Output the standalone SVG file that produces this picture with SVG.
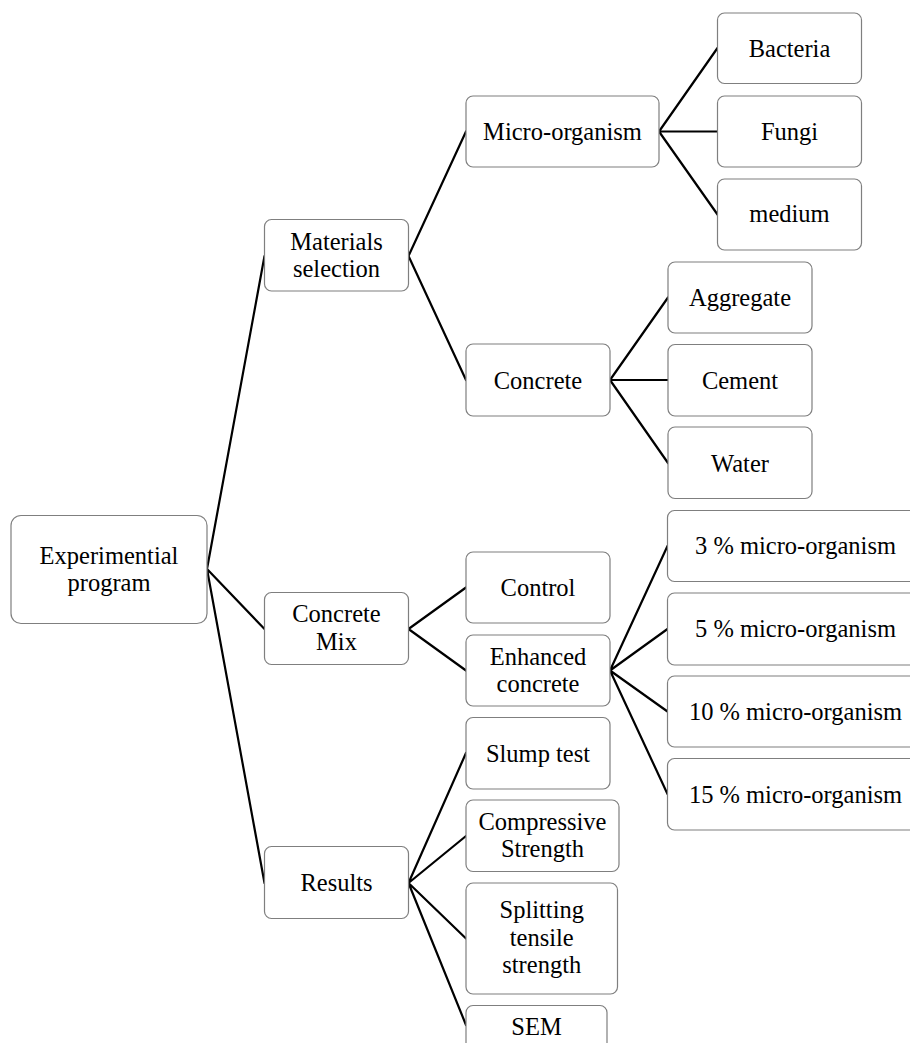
<svg xmlns="http://www.w3.org/2000/svg" width="910" height="1043" viewBox="0 0 910 1043">
<style>
.box{fill:#fff;stroke:#7f7f7f;stroke-width:1.2}
.t{font-size:24.5px;fill:#000;text-anchor:middle}
.c{stroke:#000;stroke-width:2.2;fill:none;stroke-linecap:round}
</style>
<rect width="910" height="1043" fill="#fff"/>
<g id="connectors">
<path class="c" d="M207,569L264.5,256M207,569L264.5,629M207,569L264.5,883"/>
<path class="c" d="M408.5,256L466,131.5M408.5,256L466,380"/>
<path class="c" d="M659,131.5L717.5,48M659,131.5L717.5,131.5M659,131.5L717.5,214.5"/>
<path class="c" d="M610,380L668,297.5M610,380L668,380M610,380L668,463"/>
<path class="c" d="M408.5,629L466,587.5M408.5,629L466,670.5"/>
<path class="c" d="M610,670.5L667.5,546M610,670.5L667.5,629M610,670.5L667.5,711.5M610,670.5L667.5,794"/>
<path class="c" d="M408.5,883L466,753M408.5,883L466,836M408.5,883L466,938.5M408.5,883L466,1025"/>
</g>
<g font-family="'Liberation Serif', 'Times New Roman', Times, serif">
<g id="experimental"><rect class="box" x="11" y="515.5" width="196" height="108" rx="10"/><text class="t" x="109" y="563.5">Experimential</text><text class="t" x="109" y="591">program</text></g>
<g id="materials"><rect class="box" x="264.5" y="219.5" width="144" height="71.5" rx="7"/><text class="t" x="336.5" y="249.5">Materials</text><text class="t" x="336.5" y="277">selection</text></g>
<g id="mix"><rect class="box" x="264.5" y="592.5" width="144" height="72" rx="7"/><text class="t" x="336.5" y="622">Concrete</text><text class="t" x="336.5" y="649.5">Mix</text></g>
<g id="results"><rect class="box" x="264.5" y="846.5" width="144" height="72" rx="7"/><text class="t" x="336.5" y="891">Results</text></g>
<g id="microorganism"><rect class="box" x="466" y="96" width="193" height="71" rx="7"/><text class="t" x="562.5" y="140">Micro-organism</text></g>
<g id="concrete"><rect class="box" x="466" y="344" width="144" height="72" rx="7"/><text class="t" x="538" y="389">Concrete</text></g>
<g id="bacteria"><rect class="box" x="717.5" y="13" width="144" height="70.5" rx="7"/><text class="t" x="789.5" y="56.5">Bacteria</text></g>
<g id="fungi"><rect class="box" x="717.5" y="96" width="144" height="71" rx="7"/><text class="t" x="789.5" y="139.5">Fungi</text></g>
<g id="medium"><rect class="box" x="717.5" y="179" width="144" height="71" rx="7"/><text class="t" x="789.5" y="222">medium</text></g>
<g id="aggregate"><rect class="box" x="668" y="262" width="144" height="71" rx="7"/><text class="t" x="740" y="306">Aggregate</text></g>
<g id="cement"><rect class="box" x="668" y="344.5" width="144" height="71.5" rx="7"/><text class="t" x="740" y="389">Cement</text></g>
<g id="water"><rect class="box" x="668" y="427" width="144" height="71.5" rx="7"/><text class="t" x="740" y="471.5">Water</text></g>
<g id="control"><rect class="box" x="466" y="552" width="144" height="71" rx="7"/><text class="t" x="538" y="596">Control</text></g>
<g id="enhanced"><rect class="box" x="466" y="635" width="144" height="71" rx="7"/><text class="t" x="538" y="664.5">Enhanced</text><text class="t" x="538" y="692">concrete</text></g>
<g id="p3"><rect class="box" x="667.5" y="510.5" width="256" height="71" rx="7"/><text class="t" x="795.5" y="554">3 % micro-organism</text></g>
<g id="p5"><rect class="box" x="667.5" y="593" width="256" height="72" rx="7"/><text class="t" x="795.5" y="637">5 % micro-organism</text></g>
<g id="p10"><rect class="box" x="667.5" y="676" width="256" height="71" rx="7"/><text class="t" x="795.5" y="720">10 % micro-organism</text></g>
<g id="p15"><rect class="box" x="667.5" y="758.5" width="256" height="71.5" rx="7"/><text class="t" x="795.5" y="803">15 % micro-organism</text></g>
<g id="slump"><rect class="box" x="466" y="717.5" width="144" height="71.5" rx="7"/><text class="t" x="538" y="761.5">Slump test</text></g>
<g id="compressive"><rect class="box" x="466" y="800" width="153" height="71.5" rx="7"/><text class="t" x="542.5" y="829.5">Compressive</text><text class="t" x="542.5" y="857">Strength</text></g>
<g id="splitting"><rect class="box" x="466" y="883" width="151.5" height="111" rx="7"/><text class="t" x="541.75" y="918">Splitting</text><text class="t" x="541.75" y="945.5">tensile</text><text class="t" x="541.75" y="973">strength</text></g>
<g id="sem"><rect class="box" x="466" y="1005.5" width="141" height="80" rx="7"/><text class="t" x="536.5" y="1035">SEM</text></g>
</g>
</svg>
